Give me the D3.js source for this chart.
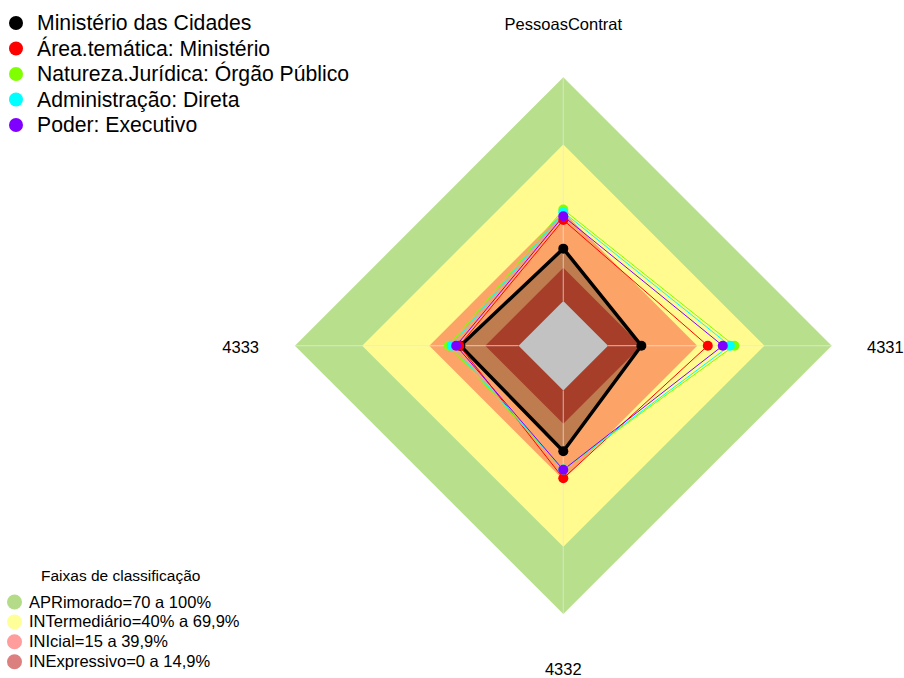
<!DOCTYPE html>
<html>
<head>
<meta charset="utf-8">
<script src="https://cdn.jsdelivr.net/npm/d3@7"></script>
<style>
  html, body { margin: 0; padding: 0; background: #fff; }
  svg { display: block; font-family: "Liberation Sans", Arial, sans-serif; }
</style>
</head>
<body>
<svg id="chart" width="904" height="678"></svg>
<script>
// Axes of the radar, clockwise from the top
const axes = ["PessoasContrat", "4331", "4332", "4333"];

// Series (percent values per axis)
const seriesNames = [
  "Ministério das Cidades",
  "Área.temática: Ministério",
  "Natureza.Jurídica: Órgão Público",
  "Administração: Direta",
  "Poder: Executivo"
];
const seriesColors = ["#000000", "#ff0000", "#80ff00", "#00ffff", "#8000ff"];
const valMinisterio = [23.4, 14.9, 27.2, 26.0];
const valArea       = [36.2, 44.6, 39.3, 26.5];
const valNatureza   = [40.9, 56.5, 35.3, 31.2];
const valAdmin      = [39.7, 54.5, 35.4, 29.9];
const valPoder      = [37.9, 51.3, 35.5, 27.9];
const seriesValues = [valMinisterio, valArea, valNatureza, valAdmin, valPoder];

// Classification bands (upper limit of each band, in percent)
const bandNames  = ["APRimorado=70 a 100%", "INTermediário=40% a 69,9%", "INIcial=15 a 39,9%", "INExpressivo=0 a 14,9%"];
const bandLimits = [100, 69.9, 39.9, 14.9];
const bandFill   = ["#b8e08c", "#fffb8f", "#fca468", "#da5237"];
const bandKey    = ["#b3db88", "#ffff99", "#ff9c9c", "#dc7f7f"];

const svg = d3.select("#chart");
const cx = 563.3, cy = 345.7, R = 268.4;

// fmsb-style scale: value 0 sits at one sixth of the radius
const r = d3.scaleLinear().domain([0, 100]).range([R / 6, R]);
const angle = d3.scalePoint().domain(axes).range([0, 2 * Math.PI * (axes.length - 1) / axes.length]);

function pt(axis, v) {
  const a = angle(axis);
  return [cx + r(v) * Math.sin(a), cy - r(v) * Math.cos(a)];
}
const ring = d3.line().curve(d3.curveLinearClosed);
const polyFor = vals => ring(axes.map((ax, i) => pt(ax, vals[i])));
const constVals = v => axes.map(() => v);

// Title (runs off the top edge)
svg.append("text")
  .attr("x", cx).attr("y", -5)
  .attr("text-anchor", "middle")
  .attr("font-weight", "bold").attr("font-size", 22)
  .text("Comparação de pessoas contratadas por grupo de órgãos");

// Bands, outermost first
const gBands = svg.append("g");
bandLimits.forEach((lim, i) => {
  gBands.append("path").attr("d", polyFor(constVals(lim))).attr("fill", bandFill[i]);
});
// Empty core below value 0
gBands.append("path").attr("d", polyFor(constVals(0))).attr("fill", "#ffffff");

// Translucent fill of the main series
svg.append("path")
  .attr("d", polyFor(valMinisterio))
  .attr("fill", "rgba(0,0,0,0.24)");

// Axis spokes
svg.append("g").selectAll("line").data(axes).join("line")
  .attr("x1", d => pt(d, 0)[0]).attr("y1", d => pt(d, 0)[1])
  .attr("x2", d => pt(d, 100)[0]).attr("y2", d => pt(d, 100)[1])
  .attr("stroke", "#e6e6e6").attr("stroke-opacity", 0.6).attr("stroke-width", 1.2);

// Series outlines and points
const gSeries = svg.append("g");
seriesValues.forEach((vals, s) => {
  gSeries.append("path")
    .attr("d", polyFor(vals))
    .attr("fill", "none")
    .attr("stroke", seriesColors[s])
    .attr("stroke-width", s === 0 ? 3.5 : 1)
    .attr("stroke-linejoin", "round");
});
seriesValues.forEach((vals, s) => {
  gSeries.append("g").selectAll("circle").data(axes).join("circle")
    .attr("cx", (d, i) => pt(d, vals[i])[0])
    .attr("cy", (d, i) => pt(d, vals[i])[1])
    .attr("r", 5)
    .attr("fill", seriesColors[s]);
});

// Axis labels
const labelPos = [
  { x: cx, y: 30, anchor: "middle" },
  { x: 867, y: 353, anchor: "start" },
  { x: cx, y: 675, anchor: "middle" },
  { x: 259, y: 353, anchor: "end" }
];
svg.append("g").selectAll("text").data(axes).join("text")
  .attr("x", (d, i) => labelPos[i].x)
  .attr("y", (d, i) => labelPos[i].y)
  .attr("text-anchor", (d, i) => labelPos[i].anchor)
  .attr("font-size", 16.5)
  .attr("fill", "#000")
  .text(d => d);

// Series legend
const gLeg = svg.append("g");
seriesNames.forEach((name, i) => {
  const y = 30 + i * 25.5;
  gLeg.append("circle").attr("cx", 16).attr("cy", y - 7).attr("r", 7).attr("fill", seriesColors[i]);
  gLeg.append("text").attr("x", 37).attr("y", y).attr("font-size", 21.2).attr("fill", "#000").text(name);
});

// Band legend
const gBandLeg = svg.append("g");
gBandLeg.append("text").attr("x", 41).attr("y", 581).attr("font-size", 15.5).attr("fill", "#000")
  .text("Faixas de classificação");
bandNames.forEach((name, i) => {
  const y = 607.5 + i * 19.9;
  gBandLeg.append("circle").attr("cx", 14.5).attr("cy", y - 5.5).attr("r", 7.5).attr("fill", bandKey[i]);
  gBandLeg.append("text").attr("x", 29).attr("y", y).attr("font-size", 16.5).attr("fill", "#000").text(name);
});
</script>
</body>
</html>
